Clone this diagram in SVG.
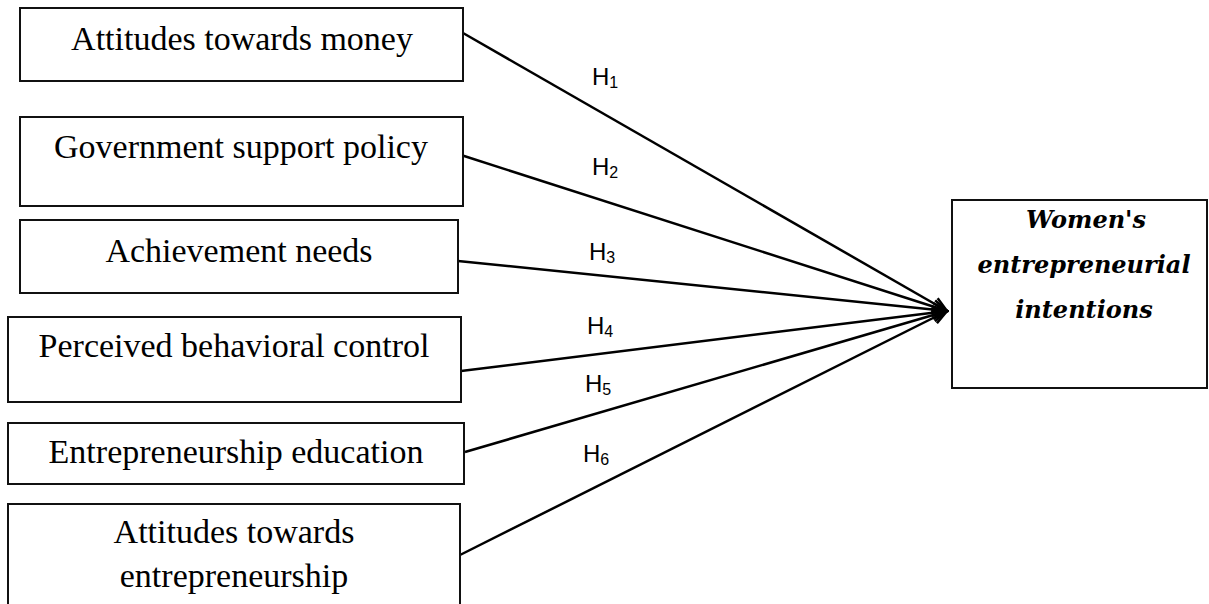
<svg xmlns="http://www.w3.org/2000/svg" width="1209" height="604" viewBox="0 0 1209 604">
  <style>
    .box { fill: #fff; stroke: #111; stroke-width: 2; }
    .lbl { font-family: "Liberation Serif", serif; font-size: 34px; fill: #000; text-anchor: middle; }
    .out { font-family: "DejaVu Serif", serif; font-weight: bold; font-style: italic; font-size: 24px; fill: #000; text-anchor: middle; }
    .h { font-family: "Liberation Sans", Arial, sans-serif; font-size: 24px; fill: #000; }
    .sub { font-size: 16px; }
    .conn { stroke: #000; stroke-width: 2.5; fill: none; marker-end: url(#arr); }
  </style>
  <defs>
    <marker id="arr" viewBox="0 0 18 16" refX="16" refY="8" markerWidth="18" markerHeight="16" markerUnits="userSpaceOnUse" orient="auto">
      <path d="M1.5,1.5 L16,8 L1.5,14.5" fill="none" stroke="#000" stroke-width="2.5"/>
    </marker>
  </defs>
  <rect width="1209" height="604" fill="#fff"/>

  <g id="connectors">
    <line class="conn" x1="463" y1="33" x2="947" y2="311"/>
    <line class="conn" x1="461" y1="155" x2="947" y2="311"/>
    <line class="conn" x1="458" y1="261" x2="947" y2="311"/>
    <line class="conn" x1="461" y1="371" x2="947" y2="311"/>
    <line class="conn" x1="465" y1="452" x2="947" y2="311"/>
    <line class="conn" x1="458" y1="556" x2="947" y2="311"/>
  </g>

  <g id="labels">
    <text class="h" x="592" y="85">H<tspan class="sub" dy="3">1</tspan></text>
    <text class="h" x="592" y="175">H<tspan class="sub" dy="3">2</tspan></text>
    <text class="h" x="589" y="260">H<tspan class="sub" dy="3">3</tspan></text>
    <text class="h" x="587" y="334">H<tspan class="sub" dy="3">4</tspan></text>
    <text class="h" x="585" y="392">H<tspan class="sub" dy="3">5</tspan></text>
    <text class="h" x="583" y="462">H<tspan class="sub" dy="3">6</tspan></text>
  </g>

  <g id="node-money">
    <rect class="box" x="20" y="8" width="443" height="73"/>
    <text class="lbl" x="242" y="50">Attitudes towards money</text>
  </g>
  <g id="node-government">
    <rect class="box" x="20" y="117" width="443" height="89"/>
    <text class="lbl" x="241" y="158">Government support policy</text>
  </g>
  <g id="node-achievement">
    <rect class="box" x="20" y="220" width="438" height="73"/>
    <text class="lbl" x="239" y="262">Achievement needs</text>
  </g>
  <g id="node-pbc">
    <rect class="box" x="8" y="317" width="453" height="85"/>
    <text class="lbl" x="234" y="357">Perceived behavioral control</text>
  </g>
  <g id="node-education">
    <rect class="box" x="8" y="423" width="456" height="61"/>
    <text class="lbl" x="236" y="463">Entrepreneurship education</text>
  </g>
  <g id="node-attitude-ent">
    <rect class="box" x="8" y="504" width="452" height="110"/>
    <text class="lbl" x="234" y="543">Attitudes towards</text>
    <text class="lbl" x="234" y="587">entrepreneurship</text>
  </g>
  <g id="node-intentions">
    <rect class="box" x="952" y="200" width="255" height="188"/>
    <text class="out" x="1086" y="228">Women's</text>
    <text class="out" x="1084" y="273">entrepreneurial</text>
    <text class="out" x="1084" y="318">intentions</text>
  </g>
</svg>
